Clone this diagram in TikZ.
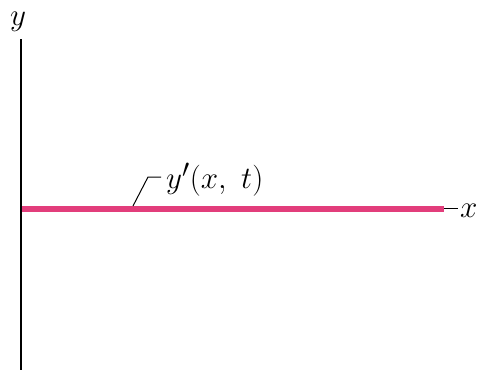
\documentclass[tikz,border=0pt]{standalone}
\definecolor{wavepink}{HTML}{E23D7B}
\begin{document}
\begin{tikzpicture}[x=1pt,y=-1pt,
  axis/.style={line width=2.6pt,black},
  lbl/.style={inner sep=0pt,font=\Huge}]
\useasboundingbox (0,0) rectangle (477,370);
\coordinate (ytop) at (21,39);
\coordinate (ybot) at (21,370);
\draw[axis] (ytop) -- (ybot);
\node[lbl] (ylab) at (18,22) {\scalebox{1.25}{$y$}};
\coordinate (sl) at (22,208.5);
\coordinate (sr) at (444,208.5);
\coordinate (xe) at (458,208.5);
\draw[line width=1.4pt] (sr) -- (xe);
\draw[wavepink,line width=6pt] (sl) -- (sr);
\node[lbl,anchor=west] (xlab) at (460,211) {\scalebox{1.25}{$x$}};
\coordinate (l0) at (133,206);
\coordinate (l1) at (148,177);
\coordinate (l2) at (161,177);
\draw[line width=1pt] (l0) -- (l1) -- (l2);
\node[lbl,anchor=west] (wlab) at (166,180) {\scalebox{1.25}{$y'(x,\ t)$}};
\end{tikzpicture}
\end{document}
